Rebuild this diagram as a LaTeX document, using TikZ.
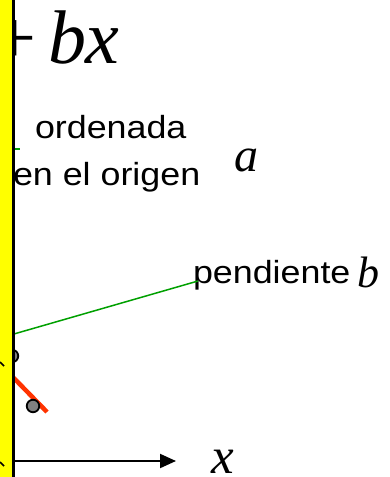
\documentclass[tikz,border=0pt]{standalone}
\usepackage{fontspec}
\setmainfont{Liberation Serif}
\newfontfamily\arial{Liberation Sans}
\usetikzlibrary{arrows.meta}
\definecolor{stripyellow}{HTML}{FFFF00}
\definecolor{fitred}{HTML}{FF3300}
\definecolor{guidegreen}{HTML}{00A000}
\definecolor{ptgray}{HTML}{808080}
\newcommand{\widetext}[1]{\scalebox{1.12}[1]{#1}}
\tikzset{
  lbl/.style={inner sep=0pt, outer sep=0pt, anchor=base west, font=\arial\fontsize{32}{38}\selectfont},
  mathlbl/.style={inner sep=0pt, outer sep=0pt, anchor=base west},
  guide/.style={draw=guidegreen, line width=1.5pt},
  datapt/.style={circle, draw=black, fill=ptgray, line width=1.8pt, minimum size=12.5pt, inner sep=0pt},
  axisline/.style={draw=black, line width=2pt, -{Triangle[length=16pt, width=14pt]}}
}
\begin{document}
\begin{tikzpicture}[x=1pt, y=-1pt]
\useasboundingbox (0,0) rectangle (389,477);
% equation fragment
\node[mathlbl, font=\fontsize{76}{80}\selectfont] (plus) at (-6.4,63) {+};
\node[mathlbl, font=\fontsize{76}{80}\selectfont\itshape] (bx) at (48,63) {bx};
% labels
\node[lbl] (ord) at (35,138) {\widetext{ordenada}};
\node[lbl] (orig) at (13,185) {\widetext{en el origen}};
\node[mathlbl, font=\fontsize{48}{52}\selectfont\itshape] (a) at (234,171) {a};
\node[lbl] (pend) at (193,283) {\widetext{pendiente}};
\node[mathlbl, font=\fontsize{44}{48}\selectfont\itshape] (b) at (357,287) {b};
\node[mathlbl, font=\fontsize{51}{55}\selectfont\itshape] (x) at (211,473) {x};
% connectors and data
\coordinate (g1s) at (5,149);
\coordinate (g1e) at (20,149);
\draw[guide] (g1s) -- (g1e);
\coordinate (g2s) at (0,338);
\coordinate (g2e) at (198,281);
\draw[guide] (g2s) -- (g2e);
\coordinate (rs) at (5,369);
\coordinate (re) at (47,412);
\draw[draw=fitred, line width=4.5pt] (rs) -- (re);
\node[datapt] (p1) at (12,356) {};
\node[datapt] (p2) at (33,406) {};
\coordinate (xa0) at (14,461);
\coordinate (xa1) at (176,461);
\draw[axisline] (xa0) -- (xa1);
% left strip
\fill[stripyellow] (-1,-1) rectangle (13,478);
\coordinate (st) at (13.7,-1);
\coordinate (sb) at (13.7,478);
\draw[black, line width=2.5pt] (st) -- (sb);
\coordinate (m1a) at (0,362);
\coordinate (m1b) at (4,366);
\draw[black, line width=1.5pt] (m1a) -- (m1b);
\coordinate (m2a) at (0,462);
\coordinate (m2b) at (4,466);
\draw[black, line width=1.5pt] (m2a) -- (m2b);
\end{tikzpicture}
\end{document}
